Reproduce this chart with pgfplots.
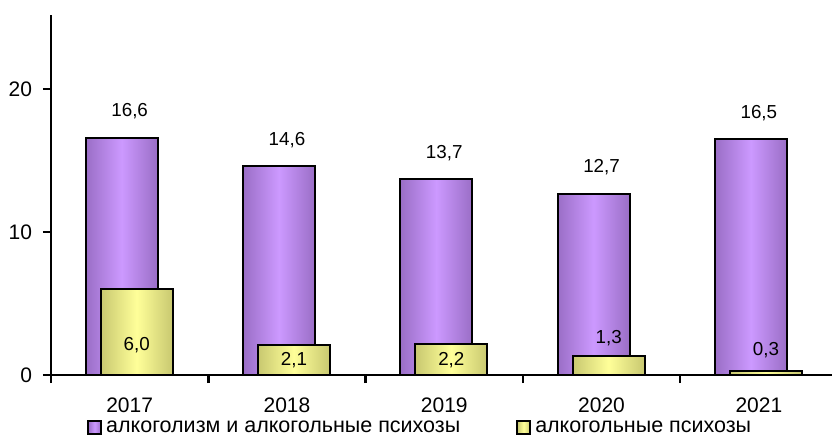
\documentclass[border=0pt]{standalone}
\usepackage{fontspec}
\setmainfont{Liberation Sans}
\usepackage{pgfplots}
\pgfplotsset{compat=1.18}
\definecolor{pdark}{HTML}{9A6EC6}
\definecolor{plight}{HTML}{CC99FF}
\definecolor{ydark}{HTML}{C8C870}
\definecolor{ylight}{HTML}{FFFF99}
\pgfplotsset{
  purplebar/.style={ybar, bar width=36pt, bar shift=-4pt, draw=black, line width=1pt,
    left color=pdark, right color=pdark, middle color=plight,
    /pgfplots/legend image code/.code={\draw[line width=1pt, draw=black, left color=pdark, right color=pdark, middle color=plight] (0pt,-3.25pt) rectangle (6.5pt,3.25pt);},
    nodes near coords,
    /pgfplots/every node near coord/.style={anchor=south, font=\fontsize{9.4}{11}\selectfont, yshift=5.5pt, text=black}},
  yellowbar/.style={ybar, bar width=36pt, bar shift=3.5pt, draw=black, line width=1pt,
    left color=ydark, right color=ydark, middle color=ylight,
    /pgfplots/legend image code/.code={\draw[line width=1pt, draw=black, left color=ydark, right color=ydark, middle color=ylight] (0pt,-3.25pt) rectangle (6.5pt,3.25pt);}},
}
\begin{document}
\begin{tikzpicture}
\begin{axis}[
  scale only axis,
  width=390.5pt, height=180pt,
  xmin=-0.5, xmax=4.465,
  ymin=0, ymax=25.2,
  axis x line*=bottom, axis y line*=left,
  axis line style={line width=1.2pt, black},
  xtick={0,1,2,3,4},
  xticklabels={2017,2018,2019,2020,2021},
  major x tick style={draw=none},
  minor xtick={-0.5,0.5,1.5,2.5,3.5},
  minor tick length=4pt,
  minor x tick style={line width=1.2pt, black},
  ytick={0,10,20},
  major tick length=4pt,
  tick align=outside,
  y tick style={line width=1.2pt, black},
  /pgf/number format/assume math mode=true,
  /pgf/number format/use comma, /pgf/number format/fixed,
  /pgf/number format/fixed zerofill, /pgf/number format/precision=1,
  yticklabel={\pgfmathprintnumber[fixed, precision=0]{\tick}},
  xticklabel style={font=\fontsize{10.5}{12}\selectfont, yshift=-4pt},
  yticklabel style={font=\fontsize{10.5}{12}\selectfont, xshift=-2pt},
  legend style={at={(0.474,-0.147)}, anchor=center, draw=none, fill=none,
    legend columns=2, font=\fontsize{10.75}{12}\selectfont,
    /tikz/every even column/.append style={column sep=26pt},
    inner sep=0pt},
  legend cell align=left,
]
\addplot[purplebar] coordinates {(0,16.6)};
\addlegendentry{алкоголизм и алкогольные психозы}
\addplot[purplebar, forget plot] coordinates {(1,14.6)};
\addplot[purplebar, forget plot] coordinates {(2,13.7)};
\addplot[purplebar, forget plot] coordinates {(3,12.7)};
\addplot[purplebar, forget plot] coordinates {(4,16.5)};
\addplot[yellowbar] coordinates {(0,6.0)};
\addlegendentry{алкогольные психозы}
\addplot[yellowbar, forget plot] coordinates {(1,2.1)};
\addplot[yellowbar, forget plot] coordinates {(2,2.2)};
\addplot[yellowbar, forget plot] coordinates {(3,1.3)};
\addplot[yellowbar, forget plot] coordinates {(4,0.3)};
\addplot[draw=none, mark=none, forget plot,
  nodes near coords, point meta=explicit symbolic,
  every node near coord/.style={anchor=center, font=\fontsize{9.4}{11}\selectfont, text=black}
] coordinates {(0.045,2.1) [6,0] (1.045,1.05) [2,1] (2.045,1.05) [2,2] (3.045,2.6) [1,3] (4.045,1.75) [0,3]};
\end{axis}
\pgfresetboundingbox
\path ([shift={(-25.5pt,7.5pt)}]current axis.north west) rectangle ([shift={(0pt,-32pt)}]current axis.south east);
\end{tikzpicture}
\end{document}
